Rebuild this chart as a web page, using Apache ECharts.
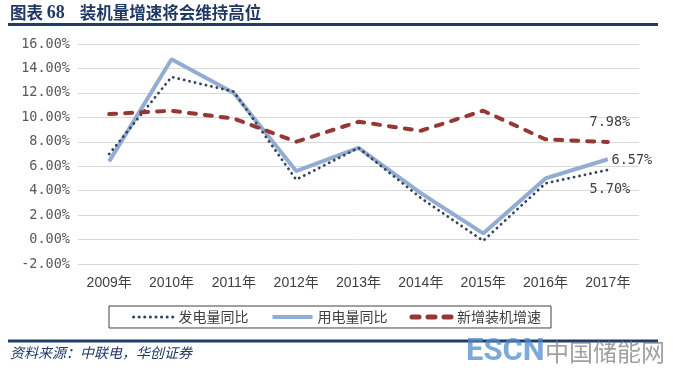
<!DOCTYPE html>
<html>
<head>
<meta charset="utf-8">
<script src="https://cdn.jsdelivr.net/npm/echarts@6/dist/echarts.min.js"></script>
<style>
html,body{margin:0;padding:0;background:#fff;}
#c{width:673px;height:370px;}
</style>
</head>
<body>
<div id="c"></div>
<script>
const years = ['2009年','2010年','2011年','2012年','2013年','2014年','2015年','2016年','2017年'];
const fadian = [7.0, 13.3, 12.1, 4.9, 7.5, 3.4, -0.1, 4.6, 5.70];
const yongdian = [6.4, 14.75, 12.0, 5.6, 7.5, 3.8, 0.5, 5.0, 6.57];
const xinzeng = [10.27, 10.54, 9.9, 8.0, 9.64, 8.9, 10.54, 8.2, 7.98];
const names = ['发电量同比','用电量同比','新增装机增速'];

const monoFont = '"DejaVu Sans Mono", monospace';
const cjk = '"Noto Sans CJK SC", sans-serif';

function endLabel(offset) {
  return {
    show: true, distance: 0, align: 'center', verticalAlign: 'middle', offset: offset,
    formatter: p => Number(p.value).toFixed(2) + '%',
    fontFamily: monoFont, fontSize: 13.5, color: '#404040'
  };
}

const chart = echarts.init(document.getElementById('c'));
chart.setOption({
  animation: false,
  grid: { left: 78, right: 34, top: 44, bottom: 106, containLabel: false },
  xAxis: {
    type: 'category',
    data: years,
    boundaryGap: true,
    axisLine: { show: false },
    axisTick: { show: false },
    axisLabel: { margin: 12, fontSize: 14, color: '#404040', fontFamily: '"Liberation Sans", "Noto Sans CJK SC", sans-serif' }
  },
  yAxis: {
    type: 'value',
    min: -2, max: 16, interval: 2,
    axisLine: { show: false },
    axisTick: { show: false },
    splitLine: { lineStyle: { color: '#d9d9d9', width: 1 } },
    axisLabel: {
      margin: 8, fontSize: 13.5, color: '#595959', fontFamily: monoFont,
      formatter: v => v.toFixed(2) + '%'
    }
  },
  legend: {
    data: [
      { name: names[0], lineStyle: { width: 3 } },
      { name: names[1], lineStyle: { width: 4 } },
      { name: names[2], lineStyle: { width: 5 } }
    ],
    left: 109, top: 306,
    padding: [4, 10, 4, 23],
    itemWidth: 40, itemHeight: 14, itemGap: 22,
    itemStyle: { opacity: 0 },
    borderColor: '#404040', borderWidth: 1,
    textStyle: { fontSize: 14, color: '#404040', fontFamily: cjk }
  },
  series: [
    {
      name: names[0], type: 'line', data: fadian,
      symbol: 'none', z: 3,
      lineStyle: { color: '#34435c', width: 2.8, type: [0.1, 5.5], cap: 'round' },
      itemStyle: { color: '#34435c' },
      endLabel: endLabel([2, 20])
    },
    {
      name: names[1], type: 'line', data: yongdian,
      symbol: 'none', z: 2,
      lineStyle: { color: '#92acd2', width: 4 },
      itemStyle: { color: '#92acd2' },
      endLabel: endLabel([24, 1])
    },
    {
      name: names[2], type: 'line', data: xinzeng,
      symbol: 'none', z: 4,
      lineStyle: { color: '#953735', width: 4, type: [7, 9], cap: 'round' },
      itemStyle: { color: '#953735' },
      endLabel: endLabel([2, -20])
    }
  ],
  graphic: [
    { type: 'text', left: 10, top: 4, style: {
      text: '图表 {n|68}    装机量增速将会维持高位',
      rich: { n: { fontFamily: '"Liberation Serif", serif', fontWeight: 'bold', fontSize: 18, fill: '#1f3864' } },
      fontFamily: cjk, fontWeight: 'bold', fontSize: 16.5, fill: '#1f3864'
    } },
    { type: 'rect', shape: { x: 8, y: 23, width: 650, height: 3 }, style: { fill: '#1f3d6b' } },
    { type: 'rect', shape: { x: 8, y: 339.5, width: 650, height: 3 }, style: { fill: '#1f3d6b' } },
    { type: 'text', left: 10, top: 346, style: {
      text: '资料来源：中联电，华创证券', fontFamily: cjk, fontStyle: 'italic', fontSize: 14, fill: '#1f3864'
    } },
    { type: 'text', left: 466, top: 337, style: {
      text: 'ESCN', fontFamily: 'Roboto, sans-serif', fontWeight: 'bold', fontSize: 31, fill: 'rgba(80,140,205,0.75)'
    } },
    { type: 'text', left: 545, top: 340, style: {
      text: '中国储能网', fontFamily: cjk, fontSize: 24, fill: 'rgba(120,120,120,0.7)'
    } }
  ]
});
</script>
</body>
</html>
